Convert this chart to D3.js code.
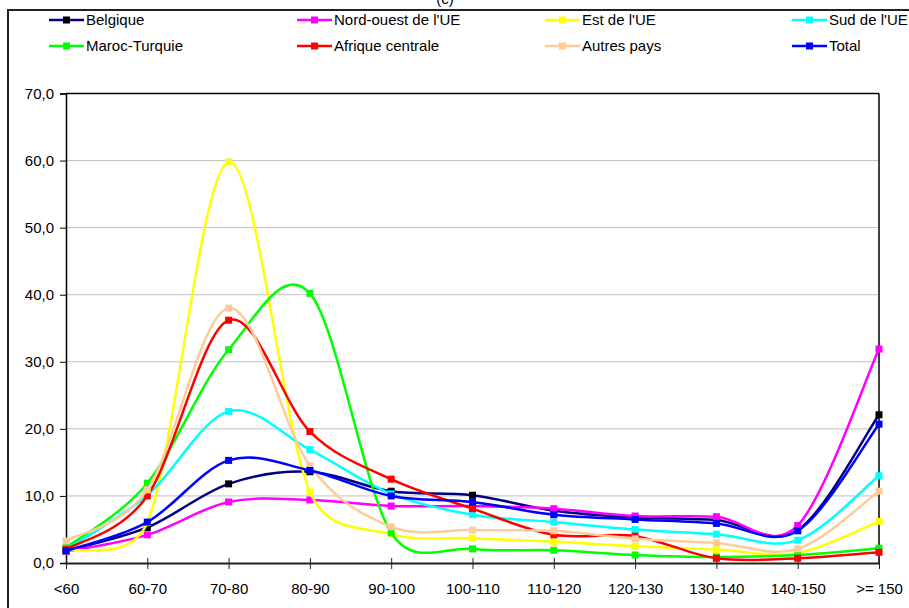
<!DOCTYPE html>
<html><head><meta charset="utf-8">
<script src="https://cdn.jsdelivr.net/npm/d3@7/dist/d3.min.js"></script>
<style>body{margin:0;background:#fff;} text{font-family:"Liberation Sans",Arial,sans-serif;}</style>
</head><body><svg id="c" width="909" height="608"></svg>
<script>
const categories = ["<60","60-70","70-80","80-90","90-100","100-110","110-120","120-130","130-140","140-150",">= 150"];
const yTicks = [0,10,20,30,40,50,60,70];
const seriesNames = ["Belgique","Nord-ouest de l'UE","Est de l'UE","Sud de l'UE","Maroc-Turquie","Afrique centrale","Autres pays","Total"];
const belgique   = [1.8, 5.3, 11.8, 13.6, 10.7, 10.1, 7.8, 6.8, 6.4, 4.9, 22.1];
const nordOuest  = [1.7, 4.2, 9.1, 9.4, 8.5, 8.5, 8.1, 7.0, 6.9, 5.6, 31.9];
const est        = [1.8, 6.0, 59.8, 10.6, 4.3, 3.7, 3.2, 2.5, 2.0, 1.5, 6.2];
const sud        = [2.0, 10.1, 22.6, 16.9, 10.3, 7.2, 6.1, 5.0, 4.3, 3.4, 13.0];
const marocTurq  = [2.3, 11.9, 31.8, 40.2, 4.5, 2.1, 1.9, 1.2, 0.9, 1.2, 2.2];
const afrique    = [2.0, 10.0, 36.2, 19.6, 12.5, 8.1, 4.2, 4.0, 0.7, 0.7, 1.6];
const autres     = [3.3, 10.9, 38.0, 14.5, 5.4, 4.9, 4.8, 3.6, 3.0, 2.1, 10.7];
const total      = [1.8, 6.1, 15.3, 13.8, 10.0, 9.1, 7.2, 6.5, 5.9, 4.8, 20.7];
const seriesValues = [belgique, nordOuest, est, sud, marocTurq, afrique, autres, total];
const lineColors   = ["#000080","#ff00ff","#ffff00","#00ffff","#00ff00","#ff0000","#ffcc99","#0000ff"];
const markerColors = ["#000000","#ff00ff","#ffff00","#00ffff","#00ff00","#ff0000","#ffcc99","#0000ff"];

const svg = d3.select("#c");
const L = 66, R = 879, T = 93.5, B = 563;
const x = d3.scalePoint().domain(categories).range([L, R]);
const y = d3.scaleLinear().domain([0, 70]).range([B, T]);

// Excel-like smoothed line: Catmull-Rom handles (1/6) clamped to half the segment chord
function smoothPath(pts) {
  const p = d3.path();
  const n = pts.length;
  const tan = pts.map((pt, i) => {
    const a = pts[Math.max(0, i - 1)], b = pts[Math.min(n - 1, i + 1)];
    return [(b[0] - a[0]) / 6, (b[1] - a[1]) / 6];
  });
  const clamp = (t, chord) => {
    const len = Math.hypot(t[0], t[1]), lim = chord * 0.5;
    if (len > lim && len > 0) return [t[0] * lim / len, t[1] * lim / len];
    return t;
  };
  p.moveTo(pts[0][0], pts[0][1]);
  for (let i = 0; i < n - 1; i++) {
    const P1 = pts[i], P2 = pts[i + 1];
    const chord = Math.hypot(P2[0] - P1[0], P2[1] - P1[1]);
    const t1 = clamp(tan[i], chord), t2 = clamp(tan[i + 1], chord);
    p.bezierCurveTo(P1[0] + t1[0], P1[1] + t1[1], P2[0] - t2[0], P2[1] - t2[1], P2[0], P2[1]);
  }
  return p.toString();
}

// outer border and clipped title
svg.append("rect").attr("x",8).attr("y",10).attr("width",920).attr("height",620)
  .attr("fill","none").attr("stroke","#222").attr("stroke-width",2);
svg.append("text").attr("x",445).attr("y",4).attr("text-anchor","middle")
  .attr("font-size",15).text("(c)");

// gridlines
svg.append("g").selectAll("line").data(yTicks.filter(d=>d>0 && d<70)).join("line")
  .attr("x1",L).attr("x2",R).attr("y1",d=>y(d)).attr("y2",d=>y(d))
  .attr("stroke","#c0c0c0").attr("stroke-width",1);

// plot border top/right
svg.append("line").attr("x1",L).attr("x2",R).attr("y1",T).attr("y2",T).attr("stroke","#000").attr("stroke-width",1.5);
svg.append("line").attr("x1",R).attr("x2",R).attr("y1",T).attr("y2",B).attr("stroke","#000").attr("stroke-width",1.5);

// y axis
const yAxis = d3.axisLeft(y).tickValues(yTicks).tickSize(6).tickPadding(6)
  .tickFormat(d => d3.format(".1f")(d).replace(".", ","));
const gy = svg.append("g").attr("transform",`translate(${L},0)`).call(yAxis);
gy.select(".domain").attr("stroke","#000").attr("stroke-width",1.5);
gy.selectAll(".tick line").attr("stroke","#000");
gy.selectAll("text").attr("font-size",15).attr("font-family","Liberation Sans, Arial, sans-serif").attr("fill","#000");

// x axis
const xAxis = d3.axisBottom(x).tickSize(6).tickPadding(14).tickSizeOuter(0);
const gx = svg.append("g").attr("transform",`translate(0,${B})`).call(xAxis);
gx.select(".domain").attr("stroke","#222").attr("stroke-width",2);
gx.selectAll(".tick line").attr("y1",-5).attr("y2",6).attr("stroke","#222");
gx.selectAll("text").attr("font-size",15).attr("font-family","Liberation Sans, Arial, sans-serif").attr("fill","#000");

// series
const ms = 7;
seriesValues.forEach((vals, s) => {
  const pts = vals.map((v, i) => [x(categories[i]), y(v)]);
  const g = svg.append("g");
  g.append("path").attr("d", smoothPath(pts)).attr("fill","none")
    .attr("stroke", lineColors[s]).attr("stroke-width", 2.5);
  g.selectAll("rect").data(vals).join("rect")
    .attr("x",(d,i)=>x(categories[i]) - ms/2).attr("y", d=>y(d) - ms/2)
    .attr("width", ms).attr("height", ms).attr("fill", markerColors[s]);
});

// legend
const colX = [86, 334, 582, 829];
const rowY = [20, 46];
seriesNames.forEach((name, s) => {
  const cx = colX[s % 4], cy = rowY[Math.floor(s / 4)];
  const g = svg.append("g");
  g.append("line").attr("x1",cx-37).attr("x2",cx-2).attr("y1",cy).attr("y2",cy)
    .attr("stroke", lineColors[s]).attr("stroke-width", 2.5);
  g.append("rect").attr("x",cx-19.5-ms/2).attr("y",cy-ms/2).attr("width",ms).attr("height",ms)
    .attr("fill", markerColors[s]);
  g.append("text").attr("x",cx).attr("y",cy).attr("dy","0.35em").attr("font-size",15).text(name);
});
</script></body></html>
